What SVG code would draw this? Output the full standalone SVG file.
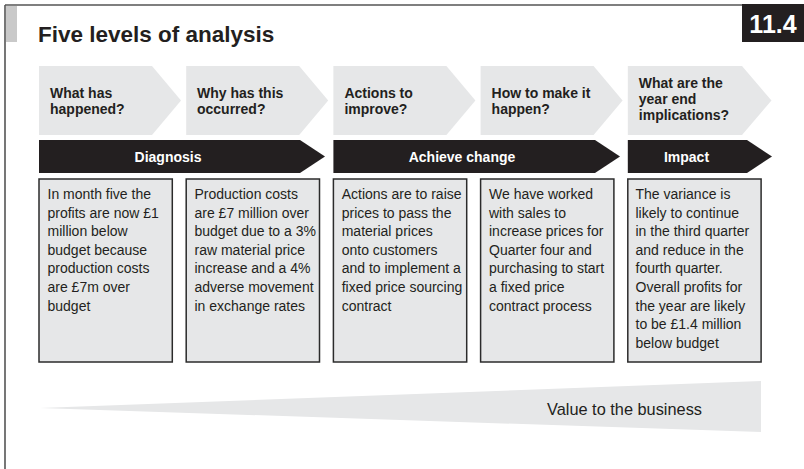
<svg xmlns="http://www.w3.org/2000/svg" width="804" height="469" viewBox="0 0 804 469">
<style>
.frame{stroke:#555;stroke-width:1.6;fill:none}
.chev{fill:#e6e7e8}
.ban{fill:#231f20}
.box{fill:#e6e7e8;stroke:#2b2b2b;stroke-width:1.5}
.q{font-family:"Liberation Sans",Arial,sans-serif;font-weight:bold;font-size:14px;fill:#231f20}
.bt{font-family:"Liberation Sans",Arial,sans-serif;font-weight:bold;font-size:14px;fill:#fff;text-anchor:middle}
.tx{font-family:"Liberation Sans",Arial,sans-serif;font-size:14px;fill:#231f20}
</style>
<rect width="804" height="469" fill="#fff"/>
<g id="frame">
<path class="frame" d="M5,5 H742 M5,5 V469"/>
<rect x="6" y="6" width="11" height="36" fill="#c9c9c9"/>
<rect x="742" y="4" width="62" height="38" fill="#231f20"/>
<text x="773" y="33" text-anchor="middle" font-family="'Liberation Sans',Arial,sans-serif" font-weight="bold" font-size="25" fill="#fff">11.4</text>
<text x="38" y="42" font-family="'Liberation Sans',Arial,sans-serif" font-weight="bold" font-size="22.5" fill="#231f20">Five levels of analysis</text>
</g>
<g id="q1"><path class="chev" d="M39,66 H152 L181,100.5 L152,135 H39 Z"/><text class="q" x="50" y="98">What has</text><text class="q" x="50" y="114">happened?</text></g>
<g id="q2"><path class="chev" d="M186.2,66 H299.2 L328.2,100.5 L299.2,135 H186.2 Z"/><text class="q" x="197" y="98">Why has this</text><text class="q" x="197" y="114">occurred?</text></g>
<g id="q3"><path class="chev" d="M333.4,66 H446.4 L475.4,100.5 L446.4,135 H333.4 Z"/><text class="q" x="344.4" y="98">Actions to</text><text class="q" x="344.4" y="114">improve?</text></g>
<g id="q4"><path class="chev" d="M480.6,66 H593.6 L622.6,100.5 L593.6,135 H480.6 Z"/><text class="q" x="491.6" y="98">How to make it</text><text class="q" x="491.6" y="114">happen?</text></g>
<g id="q5"><path class="chev" d="M627.8,66 H742 L771.5,100.5 L742,135 H627.8 Z"/><text class="q" x="638.8" y="88">What are the</text><text class="q" x="638.8" y="104">year end</text><text class="q" x="638.8" y="120">implications?</text></g>
<g id="diagnosis"><path class="ban" d="M39,140 H300 L325,156.5 L300,173 H39 Z"/><text class="bt" x="168" y="161.5">Diagnosis</text></g>
<g id="achieve"><path class="ban" d="M333.4,140 H595 L620,156.5 L595,173 H333.4 Z"/><text class="bt" x="462" y="161.5">Achieve change</text></g>
<g id="impact"><path class="ban" d="M627.8,140 H747 L772,156.5 L747,173 H627.8 Z"/><text class="bt" x="686.5" y="161.5">Impact</text></g>
<g id="box1"><rect class="box" x="39" y="179" width="133.3" height="183"/>
<text class="tx" x="47.5" y="199"><tspan x="47.5">In month five the</tspan><tspan x="47.5" dy="18.6">profits are now £1</tspan><tspan x="47.5" dy="18.6">million below</tspan><tspan x="47.5" dy="18.6">budget because</tspan><tspan x="47.5" dy="18.6">production costs</tspan><tspan x="47.5" dy="18.6">are £7m over</tspan><tspan x="47.5" dy="18.6">budget</tspan></text></g>
<g id="box2"><rect class="box" x="186.2" y="179" width="133.3" height="183"/>
<text class="tx" x="194.5" y="199"><tspan x="194.5">Production costs</tspan><tspan x="194.5" dy="18.6">are £7 million over</tspan><tspan x="194.5" dy="18.6">budget due to a 3%</tspan><tspan x="194.5" dy="18.6">raw material price</tspan><tspan x="194.5" dy="18.6">increase and a 4%</tspan><tspan x="194.5" dy="18.6">adverse movement</tspan><tspan x="194.5" dy="18.6">in exchange rates</tspan></text></g>
<g id="box3"><rect class="box" x="333.4" y="179" width="133.3" height="183"/>
<text class="tx" x="341.7" y="199"><tspan x="341.7">Actions are to raise</tspan><tspan x="341.7" dy="18.6">prices to pass the</tspan><tspan x="341.7" dy="18.6">material prices</tspan><tspan x="341.7" dy="18.6">onto customers</tspan><tspan x="341.7" dy="18.6">and to implement a</tspan><tspan x="341.7" dy="18.6">fixed price sourcing</tspan><tspan x="341.7" dy="18.6">contract</tspan></text></g>
<g id="box4"><rect class="box" x="480.6" y="179" width="133.3" height="183"/>
<text class="tx" x="489" y="199"><tspan x="489">We have worked</tspan><tspan x="489" dy="18.6">with sales to</tspan><tspan x="489" dy="18.6">increase prices for</tspan><tspan x="489" dy="18.6">Quarter four and</tspan><tspan x="489" dy="18.6">purchasing to start</tspan><tspan x="489" dy="18.6">a fixed price</tspan><tspan x="489" dy="18.6">contract process</tspan></text></g>
<g id="box5"><rect class="box" x="627.8" y="179" width="133.3" height="183"/>
<text class="tx" x="635.5" y="199"><tspan x="635.5">The variance is</tspan><tspan x="635.5" dy="18.6">likely to continue</tspan><tspan x="635.5" dy="18.6">in the third quarter</tspan><tspan x="635.5" dy="18.6">and reduce in the</tspan><tspan x="635.5" dy="18.6">fourth quarter.</tspan><tspan x="635.5" dy="18.6">Overall profits for</tspan><tspan x="635.5" dy="18.6">the year are likely</tspan><tspan x="635.5" dy="18.6">to be £1.4 million</tspan><tspan x="635.5" dy="18.6">below budget</tspan></text></g>
<g id="value">
<path d="M40,408 L761,381 L761,432 Z" fill="#e6e7e8"/>
<text x="547" y="415" font-family="'Liberation Sans',Arial,sans-serif" font-size="17" fill="#231f20" textLength="155" lengthAdjust="spacingAndGlyphs">Value to the business</text>
</g>
</svg>
